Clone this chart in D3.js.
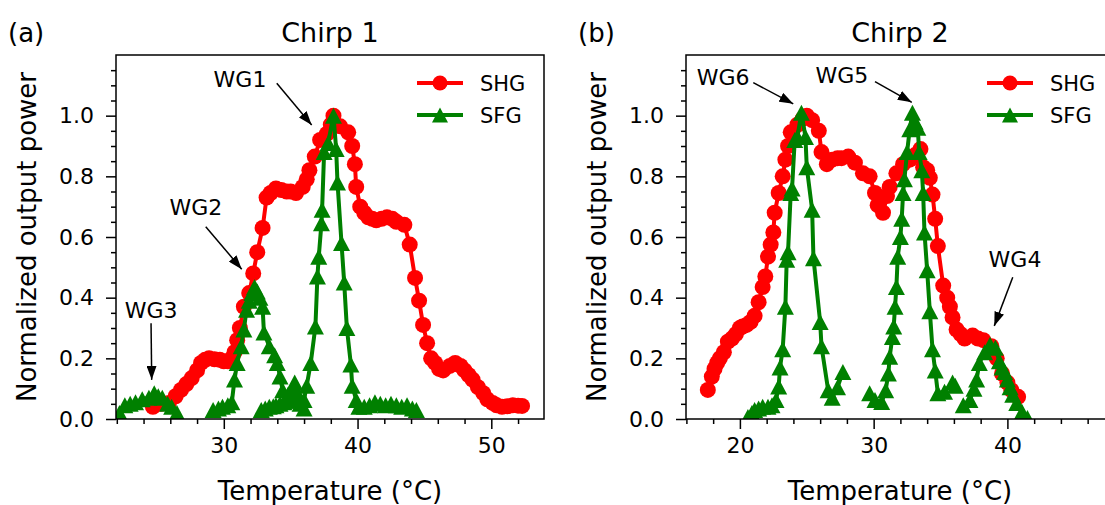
<!DOCTYPE html>
<html>
<head>
<meta charset="utf-8">
<script src="https://cdn.jsdelivr.net/npm/d3@7"></script>
<style>
  body { margin: 0; background: #fff; }
  svg { display: block; font-family: "DejaVu Sans", sans-serif; }
</style>
</head>
<body>
<svg width="1105" height="505"></svg>
<script>
// Chirp 1 (a) - SHG, temperature in °C vs normalized power
const shg1 = [
  [24.7,0.04],[25.3,0.05],[25.9,0.053],[26.4,0.075],[26.8,0.096],[27.2,0.115],[27.6,0.135],[28.0,0.16],
  [28.3,0.185],[28.6,0.195],[28.9,0.2],[29.3,0.197],[29.7,0.195],[30.0,0.19],[30.3,0.19],[30.6,0.2],
  [30.8,0.22],[31.0,0.26],[31.2,0.3],[31.5,0.37],[31.9,0.415],[32.2,0.48],[32.5,0.55],[32.9,0.63],
  [33.2,0.73],[33.5,0.745],[33.9,0.76],[34.3,0.755],[34.7,0.75],[35.0,0.75],[35.4,0.745],[35.9,0.765],
  [36.2,0.79],[36.4,0.82],[36.8,0.865],[37.2,0.92],[37.7,0.94],[38.0,0.97],[38.2,1.0],[38.7,0.965],
  [39.3,0.945],[39.6,0.9],[39.8,0.84],[39.9,0.765],[40.2,0.70],[40.5,0.68],[40.8,0.665],[41.1,0.66],
  [41.4,0.655],[41.8,0.66],[42.2,0.665],[42.6,0.66],[42.9,0.65],[43.5,0.64],[43.9,0.575],[44.3,0.465],
  [44.6,0.39],[44.9,0.31],[45.2,0.25],[45.5,0.2],[45.8,0.185],[46.1,0.165],[46.4,0.16],[46.9,0.175],
  [47.3,0.185],[47.7,0.175],[48.0,0.16],[48.3,0.145],[48.6,0.13],[49.0,0.105],[49.4,0.085],[49.7,0.065],
  [50.1,0.053],[50.4,0.045],[50.8,0.04],[51.2,0.042],[51.6,0.045],[52.0,0.044],[52.3,0.043]
];

// Chirp 1 - SFG, one run per waveguide
const sfg1 = [
  // WG3
  [[22.2,0.02],[22.6,0.045],[23.0,0.05],[23.4,0.055],[23.9,0.065],[24.4,0.07],[24.8,0.085],[25.1,0.075],
   [25.4,0.07],[25.8,0.05],[26.1,0.04],[26.5,0.02]],
  // WG2
  [[29.2,0.03],[29.6,0.035],[29.9,0.04],[30.3,0.045],[30.6,0.055],[30.8,0.13],[31.0,0.185],[31.3,0.24],
   [31.5,0.295],[31.7,0.36],[31.9,0.39],[32.1,0.415],[32.3,0.435],[32.5,0.42],[32.7,0.40],[32.9,0.37],
   [33.0,0.285],[33.4,0.24],[33.8,0.21],[34.0,0.185],[34.2,0.14],[34.4,0.095],[34.8,0.08],[35.1,0.10],
   [35.3,0.12],[35.5,0.085],[35.7,0.05],[36.0,0.035]],
  // WG1
  [[32.8,0.03],[33.1,0.035],[33.4,0.04],[33.7,0.042],[33.9,0.045],[34.2,0.05],[34.5,0.055],[34.8,0.06],
   [35.2,0.07],[35.6,0.06],[36.0,0.063],[36.2,0.11],[36.5,0.185],[36.85,0.305],[37.0,0.47],[37.1,0.535],
   [37.3,0.645],[37.35,0.69],[37.5,0.88],[37.8,0.91],[38.2,1.0],[38.4,0.89],[38.5,0.78],[38.8,0.58],
   [39.0,0.45],[39.2,0.30],[39.5,0.18],[39.6,0.11],[39.9,0.063],[40.1,0.04],[40.5,0.04],[40.9,0.045],
   [41.3,0.055],[41.7,0.05],[42.1,0.045],[42.5,0.05],[42.9,0.045],[43.3,0.04],[43.7,0.045],[44.1,0.035],
   [44.4,0.03]]
];

// Chirp 2 (b) - SHG
const shg2 = [
  [17.6,0.096],[17.9,0.14],[18.1,0.165],[18.3,0.185],[18.5,0.2],[18.8,0.22],[19.1,0.255],[19.4,0.265],
  [19.7,0.28],[20.0,0.3],[20.2,0.305],[20.5,0.31],[20.8,0.32],[21.1,0.34],[21.4,0.385],[21.7,0.435],
  [21.9,0.47],[22.1,0.535],[22.3,0.575],[22.5,0.615],[22.6,0.68],[22.9,0.745],[23.2,0.80],[23.4,0.855],
  [23.6,0.9],[23.8,0.945],[24.3,0.97],[24.7,0.99],[25.0,1.0],[25.4,0.985],[25.9,0.95],[26.1,0.88],
  [26.5,0.84],[26.9,0.855],[27.3,0.86],[27.6,0.86],[28.1,0.865],[28.6,0.845],[29.2,0.81],[29.7,0.80],
  [30.1,0.745],[30.3,0.705],[30.7,0.68],[31.0,0.735],[31.2,0.765],[31.7,0.81],[32.2,0.84],[32.7,0.855],
  [33.1,0.87],[33.5,0.89],[33.7,0.83],[34.0,0.82],[34.2,0.795],[34.4,0.74],[34.6,0.66],[34.8,0.57],
  [35.2,0.44],[35.5,0.40],[35.7,0.37],[35.9,0.335],[36.2,0.295],[36.5,0.28],[36.8,0.265],[37.4,0.275],
  [37.8,0.265],[38.2,0.26],[38.8,0.24],[39.2,0.20],[39.6,0.15],[40.0,0.12],[40.3,0.095],[40.8,0.073]
];

// Chirp 2 - SFG
const sfg2 = [
  // WG6
  [[20.6,0.007],[20.9,0.02],[21.1,0.03],[21.4,0.035],[21.7,0.04],[22.1,0.04],[22.4,0.045],[22.7,0.063],
   [22.9,0.107],[23.0,0.17],[23.2,0.23],[23.4,0.37],[23.5,0.525],[23.6,0.55],[23.8,0.745],[23.9,0.76],
   [24.1,0.92],[24.3,0.93],[24.6,1.01],[24.9,0.93],[25.0,0.83],[25.4,0.69],[25.5,0.53],[26.0,0.32],
   [26.1,0.24],[26.6,0.095],[26.9,0.07],[27.3,0.105],[27.7,0.155]],
  // WG5
  [[29.7,0.085],[30.1,0.063],[30.6,0.056],[30.9,0.095],[31.1,0.15],[31.2,0.205],[31.4,0.27],[31.5,0.305],
   [31.6,0.37],[31.7,0.435],[31.8,0.535],[32.0,0.6],[32.1,0.66],[32.2,0.745],[32.3,0.79],[32.5,0.88],
   [32.7,0.955],[32.9,1.01],[33.1,0.98],[33.3,0.96],[33.4,0.88],[33.6,0.82],[33.7,0.745],[33.8,0.615],
   [34.0,0.49],[34.2,0.355],[34.4,0.23],[34.6,0.16],[34.8,0.085],[35.3,0.09],[35.9,0.12],[36.1,0.11]],
  // WG4
  [[36.7,0.045],[37.2,0.063],[37.5,0.1],[37.7,0.13],[37.9,0.185],[38.3,0.22],[38.7,0.245],[39.1,0.235],
   [39.4,0.19],[39.6,0.17],[39.8,0.155],[40.0,0.13],[40.2,0.105],[40.4,0.08],[40.7,0.053],[41.1,0.023],
   [41.5,0.003]]
];

// annotations: label, text point, arrow start, arrow tip (data units)
const notes1 = [
  { label: 'WG1', text: [31.21, 1.095], from: [33.96, 1.107], to: [36.57, 0.969] },
  { label: 'WG2', text: [27.92, 0.673], from: [28.65, 0.634], to: [31.34, 0.494] },
  { label: 'WG3', text: [24.56, 0.333], from: [24.56, 0.316], to: [24.61, 0.129] }
];
const notes2 = [
  { label: 'WG6', text: [18.74, 1.101], from: [21.0, 1.109], to: [23.99, 1.039] },
  { label: 'WG5', text: [27.63, 1.108], from: [30.1, 1.112], to: [32.85, 1.044] },
  { label: 'WG4', text: [40.57, 0.501], from: [40.4, 0.467], to: [39.02, 0.307] }
];

const yTicks = [0, 0.2, 0.4, 0.6, 0.8, 1.0];
const xTicks1 = [30, 40, 50];
const xTicks2 = [20, 30, 40];

const svg = d3.select('svg');
const RED = '#ff0000', GREEN = '#008000';

svg.append('defs').append('marker')
    .attr('id', 'head')
    .attr('markerUnits', 'userSpaceOnUse')
    .attr('viewBox', '0 0 14 10')
    .attr('refX', 14).attr('refY', 5)
    .attr('markerWidth', 14).attr('markerHeight', 10)
    .attr('orient', 'auto')
    .append('path')
    .attr('d', 'M0,0 L14,5 L0,10 Z')
    .attr('fill', '#000');

const triangle = 'M0,-8 L8.5,8 L-8.5,8 Z';

function drawPanel(opt) {
  const left = opt.left, right = opt.left + 428, top = 55, bottom = 419;
  const x = d3.scaleLinear().domain(opt.xDomain).range([left, right]);
  const y = d3.scaleLinear().domain([0, 1.2]).range([bottom, top]);

  const g = svg.append('g');

  g.append('clipPath').attr('id', 'clip' + opt.id)
    .append('rect').attr('x', left).attr('y', top)
    .attr('width', right - left).attr('height', bottom - top);

  const plot = g.append('g').attr('clip-path', `url(#clip${opt.id})`);
  const line = d3.line().x(d => x(d[0])).y(d => y(d[1]));

  // SHG
  plot.append('path').datum(opt.shg)
      .attr('d', line).attr('fill', 'none')
      .attr('stroke', RED).attr('stroke-width', 4).attr('stroke-linejoin', 'round');
  plot.append('g').selectAll('circle')
      .data(opt.shg).enter().append('circle')
      .attr('cx', d => x(d[0])).attr('cy', d => y(d[1]))
      .attr('r', 8).attr('fill', RED);

  // SFG
  opt.sfg.forEach(run => {
    plot.append('path').datum(run)
        .attr('d', line).attr('fill', 'none')
        .attr('stroke', GREEN).attr('stroke-width', 4).attr('stroke-linejoin', 'round');
    plot.append('g').selectAll('path')
        .data(run).enter().append('path')
        .attr('d', triangle)
        .attr('transform', d => `translate(${x(d[0])},${y(d[1])})`)
        .attr('fill', GREEN);
  });

  // axes
  const xAxis = g.append('g').attr('transform', `translate(0,${bottom})`)
      .call(d3.axisBottom(x).tickValues(opt.xTicks).tickFormat(d3.format('d'))
        .tickSizeInner(10).tickSizeOuter(0).tickPadding(8));
  const xMinor = d3.range(Math.ceil(opt.xDomain[0] / 2) * 2, opt.xDomain[1], 2)
      .filter(v => v % 10 !== 0);
  g.append('g').attr('transform', `translate(0,${bottom})`)
      .call(d3.axisBottom(x).tickValues(xMinor).tickFormat('').tickSizeInner(5).tickSizeOuter(0))
      .call(a => a.select('.domain').remove());

  const yAxis = g.append('g').attr('transform', `translate(${left},0)`)
      .call(d3.axisLeft(y).tickValues(yTicks).tickFormat(d3.format('.1f'))
        .tickSizeInner(10).tickSizeOuter(0).tickPadding(12));
  const yMinor = d3.range(1, 24).map(i => i * 0.05).filter((v, i) => (i + 1) % 4 !== 0);
  g.append('g').attr('transform', `translate(${left},0)`)
      .call(d3.axisLeft(y).tickValues(yMinor).tickFormat('').tickSizeInner(5).tickSizeOuter(0))
      .call(a => a.select('.domain').remove());

  [xAxis, yAxis].forEach(a => {
    a.selectAll('text').attr('font-size', 22).attr('font-family', '"DejaVu Sans", sans-serif').attr('fill', '#000');
    a.select('.domain').remove();
  });
  g.selectAll('.tick line').attr('stroke', '#000').attr('stroke-width', 1.5);

  // frame
  g.append('rect').attr('x', left).attr('y', top)
      .attr('width', right - left).attr('height', bottom - top)
      .attr('fill', 'none').attr('stroke', '#000').attr('stroke-width', 1.5);

  // labels
  g.append('text').attr('x', (left + right) / 2).attr('y', 500)
      .attr('text-anchor', 'middle').attr('font-size', 26).text('Temperature (°C)');
  g.append('text').attr('transform', `translate(${left - 80},${(top + bottom) / 2}) rotate(-90)`)
      .attr('text-anchor', 'middle').attr('font-size', 26).text('Normalized output power');
  g.append('text').attr('x', (left + right) / 2).attr('y', 42)
      .attr('text-anchor', 'middle').attr('font-size', 27).text(opt.title);
  g.append('text').attr('x', left - 108).attr('y', 42)
      .attr('font-size', 26).text(opt.tag);

  // annotations
  opt.notes.forEach(n => {
    g.append('text').attr('x', x(n.text[0])).attr('y', y(n.text[1]))
        .attr('text-anchor', 'middle').attr('font-size', 22).text(n.label);
    g.append('line')
        .attr('x1', x(n.from[0])).attr('y1', y(n.from[1]))
        .attr('x2', x(n.to[0])).attr('y2', y(n.to[1]))
        .attr('stroke', '#000').attr('stroke-width', 1.5)
        .attr('marker-end', 'url(#head)');
  });

  // legend
  const lx = right - 127;
  [['SHG', RED, 'circle'], ['SFG', GREEN, 'tri']].forEach((item, i) => {
    const ly = 83 + i * 32;
    const lg = g.append('g');
    lg.append('line').attr('x1', lx).attr('x2', lx + 46).attr('y1', ly).attr('y2', ly)
        .attr('stroke', item[1]).attr('stroke-width', 4);
    if (item[2] === 'circle') {
      lg.append('circle').attr('cx', lx + 23).attr('cy', ly).attr('r', 7.5).attr('fill', item[1]);
    } else {
      lg.append('path').attr('d', 'M0,-7.5 L8,7.5 L-8,7.5 Z').attr('transform', `translate(${lx + 23},${ly})`).attr('fill', item[1]);
    }
    lg.append('text').attr('x', lx + 63).attr('y', ly + 7.5)
        .attr('font-size', 21).text(item[0]);
  });
}

drawPanel({ id: 1, left: 116, xDomain: [21.94, 53.94], xTicks: xTicks1,
  shg: shg1, sfg: sfg1, notes: notes1, title: 'Chirp 1', tag: '(a)' });
drawPanel({ id: 2, left: 686, xDomain: [15.97, 47.97], xTicks: xTicks2,
  shg: shg2, sfg: sfg2, notes: notes2, title: 'Chirp 2', tag: '(b)' });
</script>
</body>
</html>
